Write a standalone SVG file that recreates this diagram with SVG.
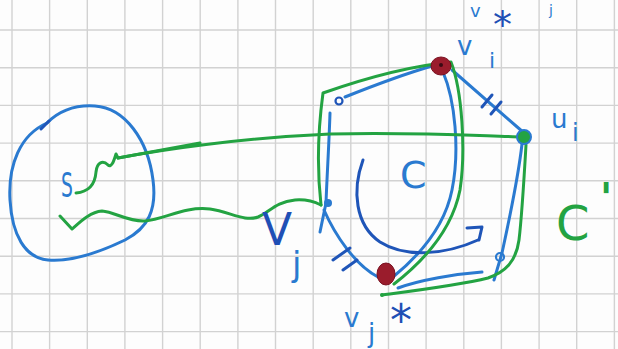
<svg xmlns="http://www.w3.org/2000/svg" width="618" height="349" viewBox="0 0 618 349">
<style>
.grid{stroke:#d2d2d2;stroke-width:1.4;fill:none}
.b{stroke:#2a7ad0;stroke-width:3;fill:none;stroke-linecap:round;stroke-linejoin:round}
.bd{stroke:#1f55b8;stroke-width:3;fill:none;stroke-linecap:round;stroke-linejoin:round}
.g{stroke:#23a342;stroke-width:3;fill:none;stroke-linecap:round;stroke-linejoin:round}
.tb{fill:#2a7ad0;font-family:"DejaVu Sans",sans-serif}
.td{fill:#1f4fb5;font-family:"DejaVu Sans",sans-serif}
.tg{fill:#23a342;font-family:"DejaVu Sans",sans-serif}
.red{fill:#9a1c2c;stroke:#7a1020;stroke-width:1}
</style>
<rect width="618" height="349" fill="#fdfdfd"/>
<path class="grid" d="M12,0V349M49.6,0V349M87.3,0V349M124.9,0V349M162.6,0V349M200.2,0V349M237.9,0V349M275.5,0V349M313.2,0V349M350.8,0V349M388.5,0V349M426.1,0V349M463.8,0V349M501.4,0V349M539.1,0V349M576.7,0V349M614.4,0V349M0,30H618M0,67.7H618M0,105.4H618M0,143.1H618M0,180.8H618M0,218.5H618M0,256.2H618M0,293.9H618M0,331.6H618"/>

<g id="set-S">
<path class="b" d="M47,123 C62,108 80,105 95,106 C125,108 148,140 153,180 C157,210 148,228 125,240 C100,252 70,262 48,260 C25,258 12,235 10,200 C8,165 20,135 47,123"/>
<path class="bd" d="M41,129 L49,121"/>
<text class="tb" x="0" y="0" font-size="34" transform="translate(61,197) scale(0.55,1)">S</text>
</g>

<g id="connectors">
<path class="b" d="M345,97 C375,85 408,73 432,66"/>
<path class="b" d="M330,113 C329,145 327,175 326,203 L320,232"/>
<path class="b" d="M324,210 C335,235 355,265 378,277"/>
<path class="bd" d="M333,260 L350,248 M343,270 L357,260"/>
<path class="b" d="M443,72 C455,100 460,150 452,190 C445,225 420,255 393,277"/>
<path class="b" d="M452,70 L523,132"/>
<path class="bd" d="M482,107 L492,95 M491,114 L501,102"/>
<path class="b" d="M522,144 C518,180 508,225 502,253 L494,280"/>
<path class="b" d="M398,288 C420,280 455,274 482,272"/>
<path class="bd" d="M363,160 C352,190 355,225 380,242 C405,258 445,255 478,240"/>
<path class="bd" d="M467,228 L482,227 L479,240"/>
<path class="g" d="M76,193 C88,192 95,185 96,172 C97,162 103,160 108,165 C112,168 114,160 116,154 L118,158 C160,150 240,138 330,134 C420,132 480,136 524,137"/>
<path class="g" d="M118,158 L200,143" stroke-width="4.5"/>
<path class="g" d="M60,216 L72,229 C80,222 90,212 102,211 C115,212 128,222 145,221 C165,219 185,206 210,209 C230,212 245,222 258,217 C270,212 275,202 295,200 C308,199 315,202 321,205"/>
<path class="g" d="M321,205 C317,170 318,130 323,93 C360,80 410,66 451,62 C462,90 466,150 460,190 C452,230 425,260 394,284"/>
<path class="g" d="M526,145 C524,180 522,215 519,240 C516,262 505,272 488,278 C460,285 420,290 382,295"/>
</g>

<g id="node-v-i">
<ellipse class="red" cx="441" cy="66" rx="10" ry="9"/>
<circle cx="441" cy="65" r="2" fill="#3a0a14"/>
<text class="tb" x="457" y="55" font-size="26">v</text>
<text class="tb" x="489" y="68" font-size="22">i</text>
<text class="td" x="493" y="38" font-size="38">*</text>
<text class="tb" x="470" y="17" font-size="18">v</text>
<text class="tb" x="549" y="15" font-size="14">j</text>
</g>

<g id="node-u-i">
<circle cx="524" cy="137" r="7" fill="#23a342" stroke="#2a7ad0" stroke-width="2"/>
<text class="tb" x="551" y="128" font-size="26">u</text>
<text class="tb" x="572" y="141" font-size="24">i</text>
</g>

<g id="node-corner-tl">
<circle cx="339" cy="101" r="3.5" fill="none" stroke="#1f55b8" stroke-width="2.2"/>
</g>

<g id="node-corner-br">
<circle cx="500" cy="257" r="4" fill="none" stroke="#2a7ad0" stroke-width="2.2"/>
</g>

<g id="node-V-j">
<circle cx="328" cy="203" r="4" fill="#2a7ad0"/>
<text class="td" x="262" y="245" font-size="44">V</text>
<text class="tb" x="292" y="276" font-size="34">j</text>
</g>

<g id="node-v-j">
<ellipse class="red" cx="386" cy="274" rx="9" ry="11"/>
<circle cx="382" cy="295" r="2" fill="#23a342"/>
<text class="tb" x="344" y="327" font-size="26">v</text>
<text class="tb" x="368" y="342" font-size="26">j</text>
<text class="td" x="390" y="336" font-size="44">*</text>
</g>

<g id="labels">
<text class="tb" x="400" y="188" font-size="38">C</text>
<text class="tg" x="556" y="240" font-size="48">C<tspan x="600" y="212" font-size="40" font-weight="bold">'</tspan></text>
</g>
</svg>
